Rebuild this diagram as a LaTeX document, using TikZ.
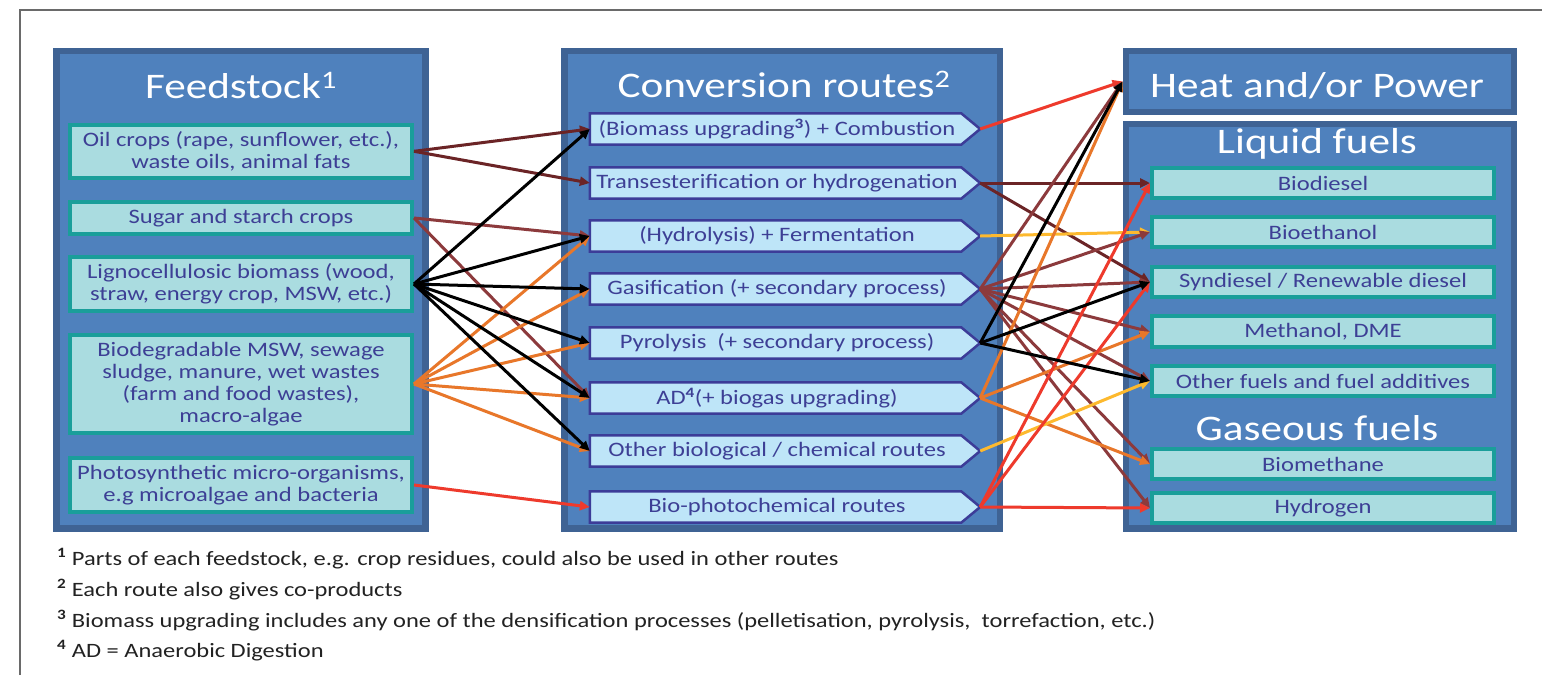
\documentclass[tikz,border=0pt]{standalone}
\usepackage{fontspec}
\setmainfont{Carlito}[FakeStretch=1.2]
\usetikzlibrary{arrows.meta}

\definecolor{panelfill}{HTML}{4F81BD}
\definecolor{panelline}{HTML}{3F6394}
\definecolor{boxfill}{HTML}{AADCE0}
\definecolor{boxline}{HTML}{1A9E9A}
\definecolor{routefill}{HTML}{BEE5F8}
\definecolor{routeline}{HTML}{3C3C98}
\definecolor{boxtext}{HTML}{3D3F95}
\definecolor{cDarkBrown}{HTML}{6B2426}
\definecolor{cBrown}{HTML}{8C3A3C}
\definecolor{cOrange}{HTML}{E8772A}
\definecolor{cRed}{HTML}{EE3A2C}
\definecolor{cYellow}{HTML}{FDB92E}
\definecolor{frameline}{HTML}{6A6A6A}
\definecolor{notetext}{HTML}{222222}

\pgfdeclarelayer{back}
\pgfdeclarelayer{mid}
\pgfsetlayers{back,mid,main}

\begin{document}
\begin{tikzpicture}[x=1pt,y=-1pt,
  panel/.style={draw=panelline, fill=panelfill, line width=6.5pt, inner sep=0pt},
  paneltitle/.style={text=white, font=\fontsize{36}{40}\selectfont, inner sep=0pt, anchor=base},
  feedbox/.style={draw=boxline, fill=boxfill, line width=4pt, text=boxtext,
    font=\fontsize{20.5}{22}\selectfont, align=center, minimum width=342pt, inner sep=0pt},
  route/.style={minimum width=390pt, minimum height=31pt, inner sep=0pt, text=boxtext,
    font=\fontsize{20.5}{22}\selectfont, execute at begin node={\hspace*{-16pt}}},
  routeshape/.style={draw=routeline, fill=routefill, line width=2.5pt, line join=miter},
  prodbox/.style={draw=boxline, fill=boxfill, line width=4pt, text=boxtext,
    font=\fontsize{20.5}{22}\selectfont, minimum width=342pt, minimum height=30.5pt, inner sep=0pt},
  note/.style={text=notetext, font=\fontsize{20.4}{22}\selectfont, anchor=base west, inner sep=0pt},
  conn/.style={draw=#1, line width=3pt, -{Triangle[length=10pt,width=9pt]}}
]
\useasboundingbox (0,0) rectangle (1542,675);

% the page, the frame and the four panels
\begin{pgfonlayer}{back}
\fill[white] (0,0) rectangle (1542,675);
\coordinate (frameTL) at (20,10);
\coordinate (frameTR) at (1542,10);
\coordinate (frameBL) at (20,675);
\draw[frameline, line width=1.5pt] (frameBL) -- (frameTL) -- (frameTR);
\node[panel, minimum width=369pt, minimum height=477.5pt] (feedpanel) at (240.8,289.7) {};
\node[panel, minimum width=435.5pt, minimum height=477.5pt] (routepanel) at (782,289.7) {};
\node[panel, minimum width=388.4pt, minimum height=60.75pt] (heat) at (1320,81.4) {};
\node[panel, minimum width=388.4pt, minimum height=404.5pt] (fuelpanel) at (1320,326.2) {};
\end{pgfonlayer}

% panel titles
\node[paneltitle] (feedtitle) at (241,98) {Feedstock\textsuperscript{1}};
\node[paneltitle] (routetitle) at (784,97) {Conversion routes\textsuperscript{2}};
\node[paneltitle] (heattitle) at (1317,97.7) {Heat and/or Power};
\node[paneltitle] (liquidtitle) at (1317,153.3) {Liquid fuels};
\node[paneltitle] (gastitle) at (1317,440.7) {Gaseous fuels};

% feedstocks
\node[feedbox, minimum height=53.3pt] (feed1) at (241,151.3) {Oil crops (rape, sunflower, etc.),\\waste oils, animal fats};
\node[feedbox, minimum height=32pt] (feed2) at (241,218) {Sugar and starch crops};
\node[feedbox, minimum height=54.3pt] (feed3) at (241,284) {Lignocellulosic biomass (wood,\\straw, energy crop, MSW, etc.)};
\node[feedbox, minimum height=97.7pt] (feed4) at (241,384) {Biodegradable MSW, sewage\\sludge, manure, wet wastes\\(farm and food wastes),\\macro-algae};
\node[feedbox, minimum height=54.3pt] (feed5) at (241,485) {Photosynthetic micro-organisms,\\e.g microalgae and bacteria};

% conversion routes
\node[route] (r1) at (785,129) {(Biomass upgrading\textsuperscript{\bfseries 3}) + Combustion};
\node[route] (r2) at (785,183) {Transesterification or hydrogenation};
\node[route] (r3) at (785,236) {(Hydrolysis) + Fermentation};
\node[route] (r4) at (785,289) {Gasification (+ secondary process)};
\node[route] (r5) at (785,343) {Pyrolysis~ (+ secondary process)};
\node[route] (r6) at (785,398) {AD\textsuperscript{\bfseries 4}(+ biogas upgrading)};
\node[route] (r7) at (785,451) {Other biological / chemical routes};
\node[route] (r8) at (785,507) {Bio-photochemical routes};
\begin{pgfonlayer}{mid}
\foreach \n in {r1,r2,r3,r4,r5,r6,r7,r8}
  \draw[routeshape] (\n.south west) -- ([xshift=-19pt]\n.south east) -- (\n.east)
    -- ([xshift=-19pt]\n.north east) -- (\n.north west) -- cycle;
\end{pgfonlayer}

% products
\node[prodbox] (biodiesel) at (1323,183) {Biodiesel};
\node[prodbox] (bioethanol) at (1323,232) {Bioethanol};
\node[prodbox] (syndiesel) at (1323,282) {Syndiesel / Renewable diesel};
\node[prodbox] (methanol) at (1323,331.7) {Methanol, DME};
\node[prodbox] (otherfuels) at (1323,381) {Other fuels and fuel additives};
\node[prodbox] (biomethane) at (1323,464) {Biomethane};
\node[prodbox] (hydrogen) at (1323,508) {Hydrogen};

% feedstock -> route
\draw[conn=cDarkBrown] (feed1.east) -- (r1.west);
\draw[conn=cDarkBrown] (feed1.east) -- (r2.west);
\draw[conn=cBrown] (feed2.east) -- (r3.west);
\draw[conn=cBrown] (feed2.east) -- (r6.west);
\foreach \t in {r3,r4,r5,r6,r7}
  \draw[conn=cOrange] (feed4.east) -- (\t.west);
\foreach \t in {r1,r3,r4,r5,r6,r7}
  \draw[conn=black] (feed3.east) -- (\t.west);
\draw[conn=cRed] (feed5.east) -- (r8.west);

% route -> product
\draw[conn=cRed] (r1.east) -- (heat.west);
\draw[conn=cDarkBrown] (r2.east) -- (biodiesel.west);
\draw[conn=cDarkBrown] (r2.east) -- (syndiesel.west);
\draw[conn=cYellow] (r3.east) -- (bioethanol.west);
\foreach \t in {heat,bioethanol,syndiesel,methanol,otherfuels,biomethane,hydrogen}
  \draw[conn=cBrown] (r4.east) -- (\t.west);
\foreach \t in {heat,methanol,biomethane}
  \draw[conn=cOrange] (r6.east) -- (\t.west);
\draw[conn=cYellow] (r7.east) -- (otherfuels.west);
\foreach \t in {biodiesel,syndiesel,hydrogen}
  \draw[conn=cRed] (r8.east) -- (\t.west);
\foreach \t in {heat,syndiesel,otherfuels}
  \draw[conn=black] (r5.east) -- (\t.west);

% footnotes
\node[note] (note1) at (57,565) {\textsuperscript{\bfseries 1} Parts of each feedstock, e.g. crop residues, could also be used in other routes};
\node[note] (note2) at (57,596) {\textsuperscript{\bfseries 2} Each route also gives co-products};
\node[note] (note3) at (57,627) {\textsuperscript{\bfseries 3} Biomass upgrading includes any one of the densification processes (pelletisation, pyrolysis,~ torrefaction, etc.)};
\node[note] (note4) at (57,657) {\textsuperscript{\bfseries 4} AD = Anaerobic Digestion};
\end{tikzpicture}
\end{document}
